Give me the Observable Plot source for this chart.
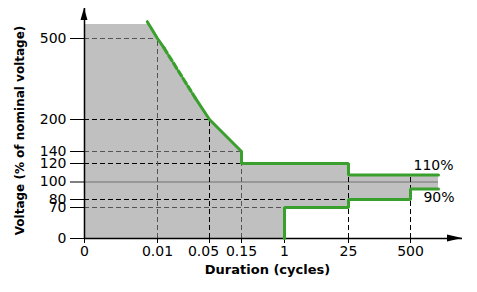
<!DOCTYPE html>
<html>
<head>
<meta charset="utf-8">
<script src="https://cdn.jsdelivr.net/npm/d3@7"></script>
<script src="https://cdn.jsdelivr.net/npm/@observablehq/plot@0.6"></script>
<style>
  html, body { margin: 0; padding: 0; background: #fff; }
</style>
</head>
<body>
<div id="chart"></div>
<script>
// ---- Data ----
const xTicks = [0, 0.01, 0.05, 0.15, 1, 25, 500];
const xTickLabels = ["0", "0.01", "0.05", "0.15", "1", "25", "500"];
const yTicks = [0, 70, 80, 100, 120, 140, 200, 500];
const durationEnd = 1000; // unlabeled right end of the envelope

// Upper limit (overvoltage) curve: solid pieces (a, b) with a dashed gap between
const upperDuration = [0.0086, 0.01, 0.015, 0.039, 0.05, 0.15, 0.15, 25, 25, durationEnd];
const upperVoltage  = [560, 500, 465, 280, 200, 140, 120, 120, 110, 110];
const upperSegment  = ["a", "a", "a", "b", "b", "b", "b", "b", "b", "b"];
// dashed (uncertain) part of the upper curve
const dashedDuration = [0.015, 0.039];
const dashedVoltage  = [465, 280];

// Lower limit (undervoltage) curve
const lowerDuration = [1, 1, 25, 25, 500, 500, durationEnd];
const lowerVoltage  = [0, 70, 70, 80, 80, 90, 90];

// Acceptable region (grey fill)
const fillDuration = [0, 0.0089, 0.01, 0.05, 0.15, 0.15, 1, 1, 25, 25, 500, 500, durationEnd];
const fillLow      = [0, 0, 0, 0, 0, 0, 0, 70, 70, 80, 80, 90, 90];
const fillHigh     = [550, 550, 500, 200, 140, 120, 120, 120, 120, 110, 110, 110, 110];

// Reference (dashed) guides: horizontal to a duration, vertical from a voltage
const grayH = [{v: 500, d: 0.01}, {v: 140, d: 0.15}, {v: 70, d: 1}];
const darkH = [{v: 200, d: 0.05}, {v: 120, d: 0.15}, {v: 80, d: 25}];
const grayV = [{d: 0.01, v: 500}, {d: 0.15, v: 140}];
const darkV = [{d: 0.05, v: 200}, {d: 25, v: 120}, {d: 500, v: 110}];
const nominal = [100];

const envelopeLabels = ["110%", "90%"];
const envelopeVoltages = [110, 90];

// ---- Build tables ----
const upper = upperDuration.map((d, i) => ({d, v: upperVoltage[i], s: upperSegment[i]}));
const dashed = dashedDuration.map((d, i) => ({d, v: dashedVoltage[i]}));
const lower = lowerDuration.map((d, i) => ({d, v: lowerVoltage[i]}));
const fill = fillDuration.map((d, i) => ({d, lo: fillLow[i], hi: fillHigh[i]}));
const labels = envelopeLabels.map((t, i) => ({t, v: envelopeVoltages[i], d: durationEnd}));
const tickLabel = (d) => xTickLabels[xTicks.indexOf(d)];
const crowded = [0.05]; // label nudged left in the reference

const green = "#3aa02d";
const dash = "5,3";

function arrows(index, scales, values, dims) {
  const g = d3.create("svg:g");
  const left = dims.marginLeft, top = dims.marginTop;
  const right = dims.width - dims.marginRight, bottom = dims.height - dims.marginBottom;
  g.append("path").attr("d", `M${left},${top}L${left - 3.5},${top + 12}L${left + 3.5},${top + 12}Z`).attr("fill", "black");
  g.append("path").attr("d", `M${right},${bottom}L${right - 15},${bottom - 3.5}L${right - 15},${bottom + 3.5}Z`).attr("fill", "black");
  return g.node();
}

const plot = Plot.plot({
  width: 477,
  height: 292,
  marginLeft: 84,
  marginTop: 8,
  marginRight: 15,
  marginBottom: 54,
  style: {fontFamily: "DejaVu Sans", fontSize: "14px", color: "black", background: "white"},
  x: {
    type: "linear",
    domain: [0, 0.01, 0.05, 0.15, 1, 25, 500, durationEnd],
    range: [84, 157, 209, 241, 284, 348, 410, 438],
    label: null
  },
  y: {
    type: "linear",
    domain: [0, 70, 80, 90, 100, 110, 120, 140, 200, 500, 550],
    range: [238, 207, 199, 188.5, 181.5, 174.5, 163, 151, 119, 38, 24],
    label: null
  },
  marks: [
    Plot.areaY(fill, {x: "d", y1: "lo", y2: "hi", fill: "#c0c0c0"}),
    Plot.ruleY(nominal, {x1: 0, x2: durationEnd, stroke: "#707070", strokeWidth: 1}),
    Plot.ruleY(grayH, {y: "v", x1: 0, x2: "d", stroke: "#555", strokeDasharray: dash}),
    Plot.ruleY(darkH, {y: "v", x1: 0, x2: "d", stroke: "#000", strokeDasharray: dash}),
    Plot.ruleX(grayV, {x: "d", y1: 0, y2: "v", stroke: "#555", strokeDasharray: dash}),
    Plot.ruleX(darkV, {x: "d", y1: 0, y2: "v", stroke: "#000", strokeDasharray: dash}),
    Plot.ruleX([0], {stroke: "black", strokeWidth: 1.5}),
    Plot.ruleY([0], {stroke: "black", strokeWidth: 1.5}),
    Plot.axisY(yTicks, {tickSize: 14, tickPadding: 4, label: null, fontSize: 14}),
    Plot.axisX(xTicks, {tickSize: 5, tickPadding: 3, label: null, fontSize: 14,
      tickFormat: (d) => crowded.includes(d) ? "" : tickLabel(d)}),
    Plot.axisX(crowded, {tickSize: 0, tickPadding: 8, label: null, fontSize: 14, dx: -6, tickFormat: tickLabel}),
    Plot.line(upper, {x: "d", y: "v", z: "s", stroke: green, strokeWidth: 3, strokeLinejoin: "miter"}),
    Plot.line(dashed, {x: "d", y: "v", stroke: green, strokeWidth: 3.2, strokeDasharray: "6,3"}),
    Plot.line(lower, {x: "d", y: "v", stroke: green, strokeWidth: 3, strokeLinejoin: "miter"}),
    Plot.text(labels.filter((d) => d.v > 100), {x: "d", y: "v", text: "t", textAnchor: "end", dx: 15, dy: -9, fontSize: 14, fill: "black"}),
    Plot.text(labels.filter((d) => d.v < 100), {x: "d", y: "v", text: "t", textAnchor: "end", dx: 16, dy: 9, fontSize: 14, fill: "black"}),
    Plot.text(["Duration (cycles)"], {frameAnchor: "bottom", textAnchor: "middle", dx: -6, dy: 35, fontWeight: "bold", fontSize: 13, fill: "black"}),
    Plot.text(["Voltage (% of nominal voltage)"], {frameAnchor: "left", textAnchor: "middle", rotate: -90, dx: -64, dy: 7, fontWeight: "bold", fontSize: 12, fill: "black"}),
    arrows
  ]
});

document.getElementById("chart").appendChild(plot);
</script>
</body>
</html>
